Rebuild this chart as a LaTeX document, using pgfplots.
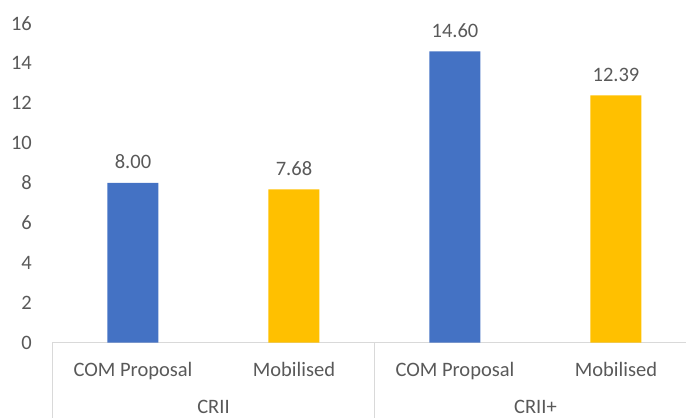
\documentclass[border=0pt]{standalone}
\usepackage{fontspec}
\setmainfont{Carlito}
\usepackage{pgfplots}
\pgfplotsset{compat=1.18}
\definecolor{barblue}{HTML}{4472C4}
\definecolor{baryellow}{HTML}{FFC000}
\definecolor{txtgray}{HTML}{595959}
\definecolor{linegray}{HTML}{D9D9D9}
\begin{document}
\begin{tikzpicture}
\begin{axis}[
  scale only axis,
  width=633.5bp, height=319bp,
  xmin=-0.5, xmax=3.435,
  ymin=0, ymax=16,
  clip=false,
  axis lines*=left,
  y axis line style={draw=none},
  x axis line style={draw=linegray, line width=1bp},
  major tick length=0pt,
  xtick={0,1,2,3},
  xticklabels={COM Proposal, Mobilised, COM Proposal, Mobilised},
  ytick={0,2,4,6,8,10,12,14,16},
  /pgf/number format/assume math mode=true,
  font=\fontsize{20.5bp}{24bp}\selectfont,
  tick label style={text=txtgray, font=\fontsize{20.5bp}{24bp}\selectfont},
  xticklabel style={anchor=base, inner sep=0pt, yshift=-34.2bp},
  yticklabel style={anchor=east, inner sep=0pt, xshift=-20.5bp},
  ybar, bar width=51bp, bar shift=0pt,
  nodes near coords,
  nodes near coords style={text=txtgray, anchor=base, inner sep=0pt, yshift=14bp,
    font=\fontsize{20.5bp}{24bp}\selectfont,
    /pgf/number format/.cd, fixed, fixed zerofill, precision=2, assume math mode=true},
]
\addplot[fill=barblue, draw=none] coordinates {(0,8.00) (2,14.60)};
\addplot[fill=baryellow, draw=none] coordinates {(1,7.68) (3,12.39)};
\coordinate (ll) at (rel axis cs:0,0);
\coordinate (ur) at (rel axis cs:1,1);
\draw[linegray, line width=1bp] (axis cs:-0.5,0) -- ([yshift=-80bp]axis cs:-0.5,0);
\draw[linegray, line width=1bp] (axis cs:1.5,0) -- ([yshift=-80bp]axis cs:1.5,0);
\node[anchor=base, inner sep=0pt, text=txtgray, yshift=-71bp] at (axis cs:0.5,0) {CRII};
\node[anchor=base, inner sep=0pt, text=txtgray, yshift=-71bp] at (axis cs:2.5,0) {CRII+};
\end{axis}
\pgfresetboundingbox
\path[use as bounding box] ([shift={(-52.5bp,-75.5bp)}]ll) rectangle ([shift={(0bp,23.5bp)}]ur);
\end{tikzpicture}
\end{document}
